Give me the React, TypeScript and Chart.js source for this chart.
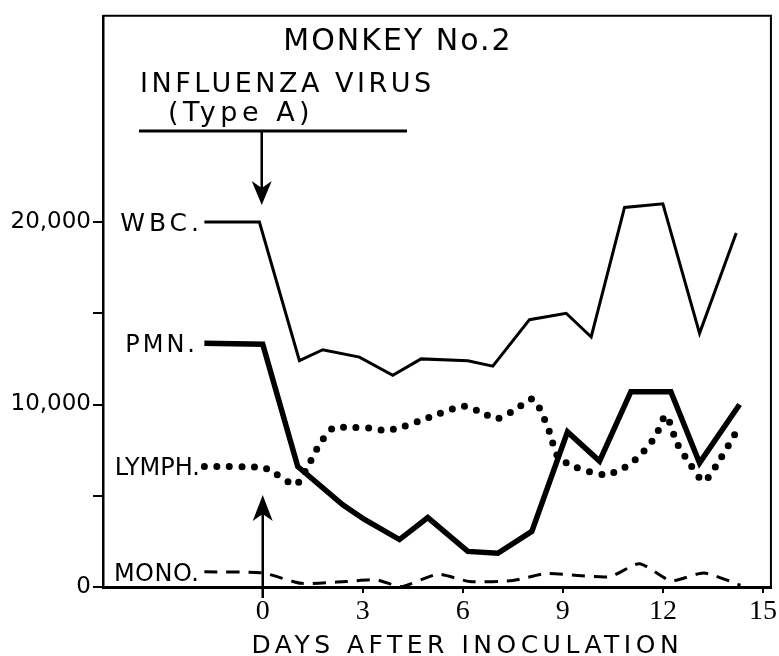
import React, { useEffect, useRef } from 'react';
import { Chart, registerables } from 'chart.js';

Chart.register(...registerables);

const SANS = '"DejaVu Sans", sans-serif';
const SERIF = '"Liberation Serif", serif';

// Axis ticks
const xTickValues = [0, 3, 6, 9, 12, 15];
const xTickLabels = ['0', '3', '6', '9', '12', '15'];
const yTickValues = [0, 5000, 10000, 15000, 20000];
const yTickLabels = ['0', '', '10,000', '', '20,000'];

// Series (days after inoculation; first point is the leader line from the label)
const wbcDays = [-1.75, -0.1, 1.1, 1.8, 2.9, 3.9, 4.75, 6.15, 6.9, 8.0, 9.1, 9.85, 10.85, 12.0, 13.1, 14.2];
const wbcValues = [20000, 20000, 12400, 13000, 12600, 11600, 12500, 12400, 12100, 14650, 15000, 13700, 20800, 21000, 13900, 19400];

const pmnDays = [-1.75, 0, 1.05, 2.4, 3.05, 4.1, 4.95, 6.15, 7.05, 8.07, 9.14, 10.1, 11.04, 12.24, 13.1, 14.3];
const pmnValues = [13350, 13300, 6600, 4500, 3700, 2600, 3800, 1950, 1850, 3050, 8500, 6900, 10700, 10700, 6800, 10000];

const lymphDays = [-1.75, 0, 0.36, 0.66, 1.0, 1.35, 1.7, 2.1, 2.5, 3.25, 3.6, 3.95, 4.65, 5.3, 6.05, 6.7, 7.0, 7.6, 8.07, 8.3, 8.6, 8.85, 9.34, 10.24, 10.84, 11.34, 11.79, 12.09, 12.43, 12.83, 13.23, 13.73, 14.33];
const lymphValues = [6600, 6550, 6230, 5880, 5600, 6600, 7800, 8700, 8750, 8700, 8600, 8650, 9060, 9500, 9900, 9440, 9200, 9750, 10300, 9800, 8500, 7140, 6600, 6150, 6540, 7260, 8300, 9400, 7860, 6700, 5800, 7040, 8900];

const monoDays = [-1.75, 0, 1.16, 2.5, 3.4, 4.15, 5.25, 6.2, 7.5, 8.5, 10.4, 11.3, 12.24, 13.23, 14.33];
const monoValues = [830, 770, 200, 300, 400, 20, 700, 300, 350, 740, 560, 1280, 340, 770, 100];

const seriesLabels = ['WBC.', 'PMN.', 'LYMPH.', 'MONO.'];

const titleText = 'MONKEY No.2';
const virusText = 'INFLUENZA VIRUS';
const typeText = '(Type A)';
const xAxisTitle = 'DAYS AFTER INOCULATION';

const toPoints = (days: number[], vals: number[]) => days.map((d, i) => ({ x: d, y: vals[i] }));

function drawSpaced(ctx: CanvasRenderingContext2D, text: string, x: number, y: number, font: string, spacing: number, align: 'left' | 'right' | 'center') {
  ctx.save();
  ctx.font = font;
  (ctx as any).letterSpacing = spacing + 'px';
  ctx.textBaseline = 'alphabetic';
  const w = ctx.measureText(text).width - spacing;
  let sx = x;
  if (align === 'right') sx = x - w;
  if (align === 'center') sx = x - w / 2;
  ctx.textAlign = 'left';
  ctx.fillStyle = '#000';
  ctx.fillText(text, sx, y);
  ctx.restore();
}

const overlay = {
  id: 'overlay',
  afterDraw(chart: any) {
    const { ctx, chartArea, scales } = chart;
    const xs = scales.x;
    const ys = scales.y;
    ctx.save();
    ctx.strokeStyle = '#000';
    ctx.fillStyle = '#000';

    // frame top and right
    ctx.lineWidth = 2;
    ctx.beginPath();
    ctx.moveTo(chartArea.left, chartArea.top);
    ctx.lineTo(chartArea.right, chartArea.top);
    ctx.lineTo(chartArea.right, chartArea.bottom);
    ctx.stroke();

    // titles
    drawSpaced(ctx, titleText, 397, 50, `30px ${SANS}`, 2, 'center');
    drawSpaced(ctx, virusText, 140, 92, `27px ${SANS}`, 3.5, 'left');
    drawSpaced(ctx, typeText, 168, 121, `27px ${SANS}`, 4.5, 'left');

    // bar + down arrow
    const x0 = xs.getPixelForValue(0);
    ctx.lineWidth = 3;
    ctx.beginPath();
    ctx.moveTo(139, 131);
    ctx.lineTo(407, 131);
    ctx.stroke();
    ctx.lineWidth = 2.5;
    ctx.beginPath();
    ctx.moveTo(x0 - 1, 131);
    ctx.lineTo(x0 - 1, 190);
    ctx.stroke();
    ctx.beginPath();
    ctx.moveTo(x0 - 11, 181);
    ctx.lineTo(x0 - 1, 205);
    ctx.lineTo(x0 + 9, 181);
    ctx.lineTo(x0 - 1, 188);
    ctx.closePath();
    ctx.fill();

    // up arrow
    ctx.beginPath();
    ctx.moveTo(x0, 598);
    ctx.lineTo(x0, 508);
    ctx.stroke();
    ctx.beginPath();
    ctx.moveTo(x0 - 10, 521);
    ctx.lineTo(x0, 495);
    ctx.lineTo(x0 + 10, 521);
    ctx.lineTo(x0, 514);
    ctx.closePath();
    ctx.fill();

    // series labels
    const firsts = [wbcValues[0], pmnValues[0], lymphValues[0], monoValues[0]];
    const sizes = [25, 24, 24, 24];
    const spacings = [4, 3, 0, 0.5];
    const rights = [199, 195, 200, 199];
    seriesLabels.forEach((lab, i) => {
      const y = ys.getPixelForValue(firsts[i]);
      drawSpaced(ctx, lab, rights[i], y + sizes[i] * 0.365, `${sizes[i]}px ${SANS}`, spacings[i], 'right');
    });

    // x axis title
    drawSpaced(ctx, xAxisTitle, 465, 653, `25px ${SANS}`, 4.5, 'center');
    ctx.restore();
  },
};

export default function App() {
  const ref = useRef<HTMLCanvasElement>(null);
  useEffect(() => {
    const canvas = ref.current;
    if (!canvas) return;
    const chart = new Chart(canvas, {
      type: 'line',
      data: {
        datasets: [
          { label: seriesLabels[0], data: toPoints(wbcDays, wbcValues), borderColor: '#000', borderWidth: 3, pointRadius: 0, tension: 0 },
          { label: seriesLabels[1], data: toPoints(pmnDays, pmnValues), borderColor: '#000', borderWidth: 5.5, pointRadius: 0, tension: 0 },
          { label: seriesLabels[2], data: toPoints(lymphDays, lymphValues), borderColor: '#000', borderWidth: 7, pointRadius: 0, tension: 0.25, borderDash: [0, 12.5], borderCapStyle: 'round' },
          { label: seriesLabels[3], data: toPoints(monoDays, monoValues), borderColor: '#000', borderWidth: 3, pointRadius: 0, tension: 0.2, borderDash: [13, 9] },
        ] as any,
      },
      options: {
        responsive: false,
        animation: false,
        layout: { padding: { top: 8, right: 7, left: 0, bottom: 0 } },
        plugins: { legend: { display: false }, tooltip: { enabled: false }, title: { display: false } },
        scales: {
          x: {
            type: 'linear',
            min: -4.79,
            max: 15.24,
            afterBuildTicks: (s: any) => { s.ticks = xTickValues.map((v) => ({ value: v })); },
            afterFit: (s: any) => { s.height = 69; },
            grid: { drawOnChartArea: false, drawTicks: true, tickLength: 6, color: '#000', lineWidth: 2 },
            border: { display: true, color: '#000', width: 3 },
            ticks: {
              color: '#000',
              font: { family: SERIF, size: 28 },
              padding: 2,
              maxRotation: 0,
              autoSkip: false,
              callback: (v: any) => xTickLabels[xTickValues.indexOf(Number(v))] ?? '',
            },
          },
          y: {
            type: 'linear',
            min: 0,
            max: 31300,
            afterBuildTicks: (s: any) => { s.ticks = yTickValues.map((v) => ({ value: v })); },
            afterFit: (s: any) => { s.width = 103; },
            grid: { drawOnChartArea: false, drawTicks: true, tickLength: 10, color: '#000', lineWidth: 2 },
            border: { display: true, color: '#000', width: 2.5 },
            ticks: {
              color: '#000',
              font: { family: SANS, size: 23 },
              padding: 2,
              autoSkip: false,
              callback: (v: any) => yTickLabels[yTickValues.indexOf(Number(v))] ?? '',
            },
          },
        },
      },
      plugins: [overlay],
    });
    return () => chart.destroy();
  }, []);
  return (
    <div style={{ position: 'absolute', left: 0, top: 0, width: 779, height: 656, background: '#fff' }}>
      <canvas ref={ref} width={779} height={656} style={{ display: 'block' }} />
    </div>
  );
}
